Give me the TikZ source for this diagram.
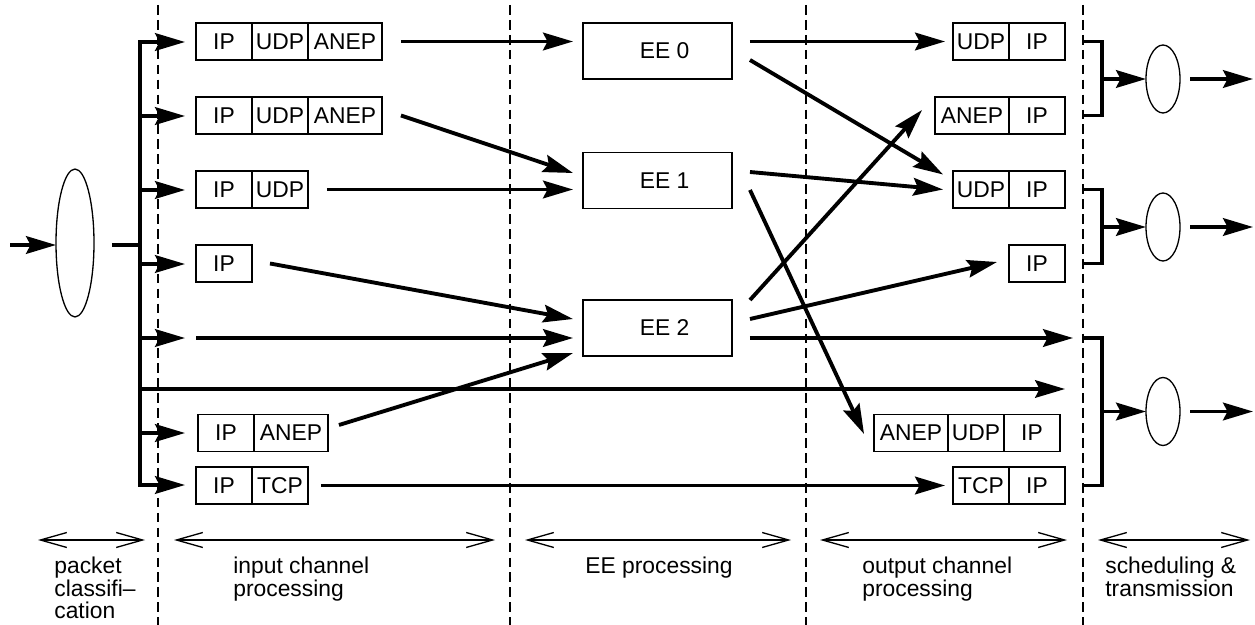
\documentclass[tikz,border=0pt]{standalone}
\usepackage{fontspec}
\setmainfont{Liberation Sans}
\usetikzlibrary{calc,shapes.geometric,arrows.meta}

\begin{document}
\begin{tikzpicture}[x=0.02cm,y=-0.02cm,font=\fontsize{13}{12.8}\selectfont,
	cell/.style={rectangle, draw=black, line width=0.75pt, inner sep=0, outer sep=0, minimum width=1.12cm, minimum height=0.74cm},
	cellw/.style={cell, minimum width=1.48cm},
	ee/.style={rectangle, draw=black, line width=0.75pt, outer sep=0, minimum width=2.98cm, minimum height=1.12cm},
	queue/.style={ellipse, draw=black, line width=0.75pt, inner sep=0, outer sep=0, minimum width=0.68cm, minimum height=1.36cm},
	flow/.style={line width=2.2pt, -{Stealth[length=17pt,width=10pt,inset=2.5pt]}},
	wire/.style={line width=2.2pt},
	stage/.style={line width=0.75pt, {Straight Barb[length=15pt,width=8.5pt]}-{Straight Barb[length=15pt,width=8.5pt]}},
	border/.style={line width=0.75pt, dash pattern=on 5.5pt off 3pt},
	lab/.style={anchor=north west, align=left, inner sep=0}]

		\useasboundingbox (0,0) rectangle (1255,625);

		%stage borders
		\foreach \x in {158,510,806,1083} {
			\draw[border] (\x,5) -- (\x,625);
		}

		%classification
		\node[queue, minimum width=0.76cm, minimum height=2.96cm] at (75,243) (cls) {};
		\coordinate (src) at (10,245);
		\draw[flow] (src) -- (src -| cls.west);
		\coordinate (bustop) at (140,42);
		\coordinate (busbot) at (140,485);
		\draw[wire] ($(cls.east)+(18,2)$) -- ($(cls.east -| bustop)+(0,2)$);
		\draw[wire, line cap=rect] (bustop) -- (busbot);
		\foreach \r/\y in {1/42,2/116,3/190,4/264,5/338,7/433,8/485} {
			\coordinate (tap\r) at (140,\y);
			\draw[flow] (tap\r) -- ++(45,0);
		}
		\coordinate (tap6) at (140,389);

		%input channels
		\foreach \r/\y in {1/41.5,2/115.5} {
			\node[cell,right] at (196,\y) (p\r1) {IP};
			\node[cell,right] at (p\r1.east) (p\r2) {UDP};
			\node[cellw,right] at (p\r2.east) (p\r3) {ANEP};
		}
		\node[cell,right] at (196,189.5) (p31) {IP};
		\node[cell,right] at (p31.east) (p32) {UDP};
		\node[cell,right] at (196,263.5) (p41) {IP};
		\coordinate (p51) at (196,338);
		\node[cell,right] at (198,433) (p71) {IP};
		\node[cellw,right] at (p71.east) (p72) {ANEP};
		\node[cell,right] at (196,485.5) (p81) {IP};
		\node[cell,right] at (p81.east) (p82) {TCP};

		%execution environments
		\foreach \i/\y in {0/51,1/180.5,2/328} {
			\node[ee] at (657.5,\y) (ee\i) {\hspace{8pt}EE \i};
		}

		%output channels
		\node[cell,left] at (1065,41.5) (q12) {IP};
		\node[cell,left] at (q12.west) (q11) {UDP};
		\node[cell,left] at (1065,115.5) (q22) {IP};
		\node[cellw,left] at (q22.west) (q21) {ANEP};
		\node[cell,left] at (1065,189.5) (q32) {IP};
		\node[cell,left] at (q32.west) (q31) {UDP};
		\node[cell,left] at (1065,263.5) (q41) {IP};
		\node[cell,left] at (1060,433) (q73) {IP};
		\node[cell,left] at (q73.west) (q72) {UDP};
		\node[cellw,left] at (q72.west) (q71) {ANEP};
		\node[cell,left] at (1065,485.5) (q82) {IP};
		\node[cell,left] at (q82.west) (q81) {TCP};
		\coordinate (mix) at (1083,338);
		\coordinate (thru) at (1065,389);

		%input -> EE
		\draw[flow] ($(p13.east)+(19,0)$) -- ($(ee0.west |- p13.east)+(-10,0)$);
		\draw[flow] ($(p23.east)+(19,0)$) -- ($(ee1.west)+(-10,-7.5)$);
		\draw[flow] ($(p32.east)+(19,0)$) -- ($(ee1.west |- p32.east)+(-10,0)$);
		\draw[flow] ($(p41.east)+(18,0)$) -- ($(ee2.west)+(-10,-9)$);
		\draw[flow] (p51) -- ($(ee2.west)+(-10,10)$);
		\draw[flow] ($(p72.east)+(11,-8)$) -- ($(ee2.west)+(-10,25)$);
		\draw[flow] ($(p82.east)+(13,0)$) -- ($(q81.west)+(-8,0)$);
		\draw[flow, line width=1.8pt] (tap6) -- (thru);

		%EE -> output
		\draw[flow] ($(ee0.east |- p13.east)+(18,0)$) -- ($(q11.west)+(-8,0)$);
		\draw[flow] ($(ee0.east)+(18,9)$) -- ($(q31.west)+(-10,-15)$);
		\draw[flow] ($(ee1.east)+(18,-8.5)$) -- ($(q31.west)+(-10,0)$);
		\draw[flow] ($(ee1.east)+(18,9.5)$) -- ($(q71.west)+(-10,1)$);
		\draw[flow] ($(ee2.east)+(18,-28)$) -- ($(q21.west)+(-13,-5.5)$);
		\draw[flow] ($(ee2.east)+(18,-9)$) -- ($(q41.west)+(-12,-1.5)$);
		\draw[flow] ($(ee2.east)+(18,10)$) -- ($(mix)+(-10,0)$);

		%scheduling
		\foreach \k/\y in {1/79,2/227,3/411.5} {
			\node[queue] at (1163,\y) (s\k) {};
			\draw[flow] ($(s\k.west)+(-44,0)$) -- (s\k.west);
			\draw[flow] ($(s\k.east)+(10,0)$) -- ++(63,0);
		}
		\draw[wire] ($(q12.east)+(18,0)$) -- ++(19,0) |- ($(q22.east)+(18,0)$);
		\draw[wire] ($(q32.east)+(18,0)$) -- ++(19,0) |- ($(q41.east)+(18,0)$);
		\draw[wire] (mix) -- ++(19,0) |- ($(q82.east)+(18,0)$);

		%stages
		\foreach \a/\b in {38/145,174/495,525/791,820/1067,1098/1250} {
			\draw[stage] (\a,540) -- (\b,540);
		}
		\node[lab] at (54,557) (l1) {packet\\classifi--\\cation};
		\node[lab] at (233,557) (l2) {input channel\\processing};
		\node[lab] at (585,557) (l3) {EE processing};
		\node[lab] at (862,557) (l4) {output channel\\processing};
		\node[lab] at (1105,557) (l5) {scheduling \&\\transmission};
	\end{tikzpicture}
\end{document}
